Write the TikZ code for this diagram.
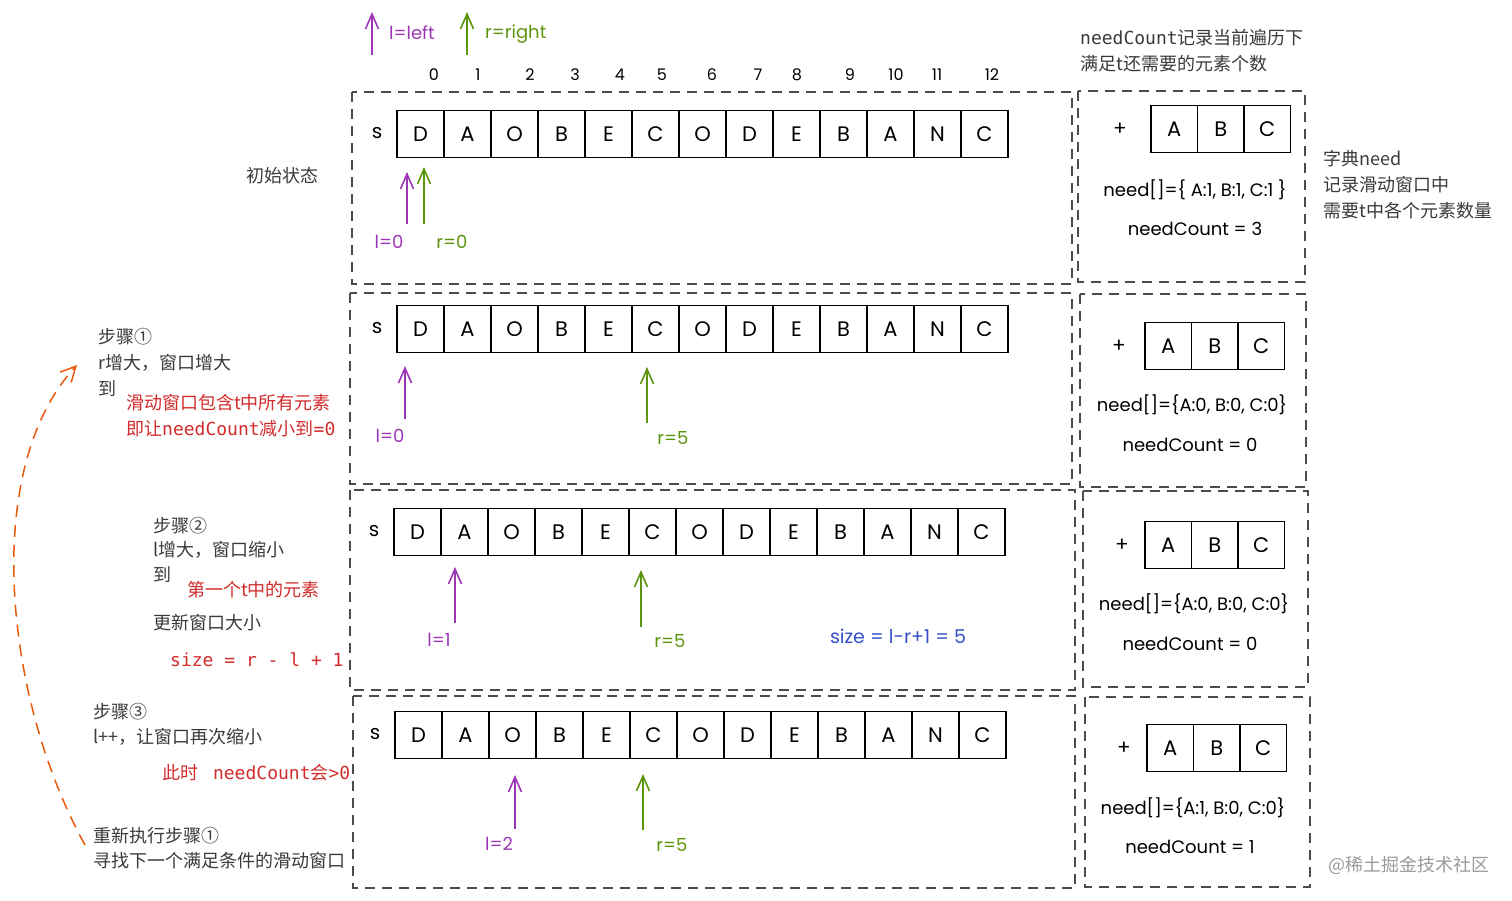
\documentclass[tikz,border=0pt]{standalone}
\usepackage{fontspec}
\setmainfont{Noto Sans CJK SC}
\newfontfamily\cjk{Noto Sans CJK SC}
\newfontfamily\hand{Poppins}
\newfontfamily\mono{DejaVu Sans Mono}
\usetikzlibrary{arrows.meta}
\definecolor{purp}{HTML}{9C36B5}
\definecolor{grn}{HTML}{5C940D}
\definecolor{blu}{HTML}{364FC7}
\definecolor{redc}{HTML}{D22B2B}
\definecolor{orng}{HTML}{E8590C}
\definecolor{txtgray}{HTML}{3A3A3A}
\begin{document}
\begin{tikzpicture}[x=1pt,y=-1pt,
  cellbox/.style={draw=black,line width=1.8pt,minimum height=47pt,inner sep=0pt,font=\hand\fontsize{21}{21}\selectfont},
  dbox/.style={draw=black!70,line width=1.3pt,dash pattern=on 10pt off 7pt},
  txt/.style={font=\cjk\fontsize{18}{22}\selectfont,text=txtgray,anchor=west,inner sep=0pt},
  rtxt/.style={txt,text=redc},
  hnd/.style={font=\hand\fontsize{18}{20}\selectfont,inner sep=0pt},
  idx/.style={font=\hand\fontsize{16}{18}\selectfont,inner sep=0pt},
  big/.style={font=\hand\fontsize{20}{20}\selectfont,inner sep=0pt},
  ptr/.style={line width=1.6pt,-{Straight Barb[length=15pt,width=13pt,line width=1.6pt]}}
]
\useasboundingbox (0,0) rectangle (1512,900);

% legend
\coordinate (lgpb) at (372,55); \coordinate (lgpt) at (372,12);
\draw[ptr,purp] (lgpb) -- (lgpt);
\node[hnd,text=purp,anchor=west] (lgpl) at (389,33) {l=left};
\coordinate (lggb) at (467,55); \coordinate (lggt) at (467,12);
\draw[ptr,grn] (lggb) -- (lggt);
\node[hnd,text=grn,anchor=west] (lggl) at (485,34) {r=right};

% indices
\foreach \n/\x in {0/434,1/478,2/530,3/575,4/620,5/662,6/712,7/758,8/797,9/850,10/896,11/937,12/992}
  \node[idx] (i\n) at (\x,75) {\n};

% dashed frames
\draw[dbox] (352,92) rectangle (1072,284);
\draw[dbox] (350,293) rectangle (1072,484);
\draw[dbox] (350,490) rectangle (1075,690);
\draw[dbox] (353,696) rectangle (1075,888);
\draw[dbox] (1078,91) rectangle (1305,282);
\draw[dbox] (1080,294) rectangle (1306,487);
\draw[dbox] (1083,491) rectangle (1308,687);
\draw[dbox] (1085,697) rectangle (1310,887);

% string cells
\foreach \r/\xs/\yc in {1/397/134, 2/397/329, 3/394/532, 4/395/735} {
  \foreach \ch [count=\i from 0] in {D,A,O,B,E,C,O,D,E,B,A,N,C}
    \node[cellbox,minimum width=47pt] (c\r-\i) at ({\xs+23.5+47*\i},\yc) {\ch};
  \node[big] (s\r) at ({\xs-20},{\yc-1}) {s};
}

% need cells
\foreach \r/\xs/\yc/\px in {1/1151/129/1120, 2/1145/346/1119, 3/1145/545/1122, 4/1147/748/1124} {
  \node[big] (p\r) at (\px,\yc) {+};
  \foreach \ch [count=\i from 0] in {A,B,C}
    \node[cellbox,minimum width=46.5pt] (d\r-\i) at ({\xs+23.25+46.5*\i},\yc) {\ch};
}

% need texts
\node[hnd] (n1) at (1195,190) {need[]=\{ A:1, B:1, C:1 \}};
\node[hnd] (nc1) at (1195,229) {needCount = 3};
\node[hnd] (n2) at (1192,405) {need[]=\{A:0, B:0, C:0\}};
\node[hnd] (nc2) at (1190,445) {needCount = 0};
\node[hnd] (n3) at (1194,604) {need[]=\{A:0, B:0, C:0\}};
\node[hnd] (nc3) at (1190,644) {needCount = 0};
\node[hnd] (n4) at (1193,808) {need[]=\{A:1, B:0, C:0\}};
\node[hnd] (nc4) at (1190,847) {needCount = 1};

% pointers row 1
\coordinate (l1b) at (407,224); \coordinate (l1t) at (407,172);
\draw[ptr,purp] (l1b) -- (l1t);
\coordinate (r1b) at (424,224); \coordinate (r1t) at (424,167);
\draw[ptr,grn] (r1b) -- (r1t);
\node[hnd,text=purp] (l1) at (389,242) {l=0};
\node[hnd,text=grn] (r1) at (452,242) {r=0};
% row 2
\coordinate (l2b) at (405,419); \coordinate (l2t) at (405,366);
\draw[ptr,purp] (l2b) -- (l2t);
\coordinate (r2b) at (647,423); \coordinate (r2t) at (647,367);
\draw[ptr,grn] (r2b) -- (r2t);
\node[hnd,text=purp] (l2) at (390,436) {l=0};
\node[hnd,text=grn] (r2) at (673,438) {r=5};
% row 3
\coordinate (l3b) at (455,623); \coordinate (l3t) at (455,567);
\draw[ptr,purp] (l3b) -- (l3t);
\coordinate (r3b) at (641,627); \coordinate (r3t) at (641,570);
\draw[ptr,grn] (r3b) -- (r3t);
\node[hnd,text=purp] (l3) at (439,640) {l=1};
\node[hnd,text=grn] (r3) at (670,641) {r=5};
\node[hnd,text=blu,font=\hand\fontsize{19}{20}\selectfont] (sz) at (898,636) {size = l-r+1 = 5};
% row 4
\coordinate (l4b) at (515,829); \coordinate (l4t) at (515,775);
\draw[ptr,purp] (l4b) -- (l4t);
\coordinate (r4b) at (643,830); \coordinate (r4t) at (643,774);
\draw[ptr,grn] (r4b) -- (r4t);
\node[hnd,text=purp] (l4) at (499,844) {l=2};
\node[hnd,text=grn] (r4) at (672,845) {r=5};

% top-right and right notes
\node[txt] (tr1) at (1080,38) {{\mono needCount}记录当前遍历下};
\node[txt] (tr2) at (1080,64) {满足t还需要的元素个数};
\node[txt] (rn1) at (1323,159) {字典need};
\node[txt] (rn2) at (1323,185) {记录滑动窗口中};
\node[txt] (rn3) at (1323,211) {需要t中各个元素数量};

% left notes
\node[txt,anchor=center] (init) at (282,176) {初始状态};
\node[txt] (s1a) at (98,337) {步骤①};
\node[txt] (s1b) at (98,363) {r增大，窗口增大};
\node[txt] (s1c) at (98,389) {到};
\node[rtxt] (s1d) at (126,403) {滑动窗口包含t中所有元素};
\node[rtxt] (s1e) at (126,429) {即让{\mono needCount}减小到{\mono =0}};

\node[txt] (s2a) at (153,526) {步骤②};
\node[txt] (s2b) at (153,550) {l增大，窗口缩小};
\node[txt] (s2c) at (153,575) {到};
\node[rtxt] (s2d) at (187,590) {第一个t中的元素};
\node[txt] (s2e) at (153,623) {更新窗口大小};
\node[rtxt,font=\mono\fontsize{18}{22}\selectfont] (s2f) at (170,660) {size = r - l + 1};

\node[txt] (s3a) at (93,712) {步骤③};
\node[txt] (s3b) at (93,737) {l++，让窗口再次缩小};
\node[rtxt] (s3c) at (162,773) {此时 {\mono\ needCount}会{\mono >0}};
\node[txt] (s3d) at (93,836) {重新执行步骤①};
\node[txt] (s3e) at (93,861) {寻找下一个满足条件的滑动窗口};

% orange loop arrow
\coordinate (oa) at (85,845); \coordinate (ob) at (77,365);
\draw[orng,line width=1.5pt,dash pattern=on 12pt off 8pt,-{Straight Barb[length=15pt,width=15pt,line width=1.5pt]}]
  (oa) .. controls (5,700) and (-20,470) .. (ob);

% watermark
\node[txt,text=black!40] (wm) at (1328,865) {@稀土掘金技术社区};
\end{tikzpicture}
\end{document}
